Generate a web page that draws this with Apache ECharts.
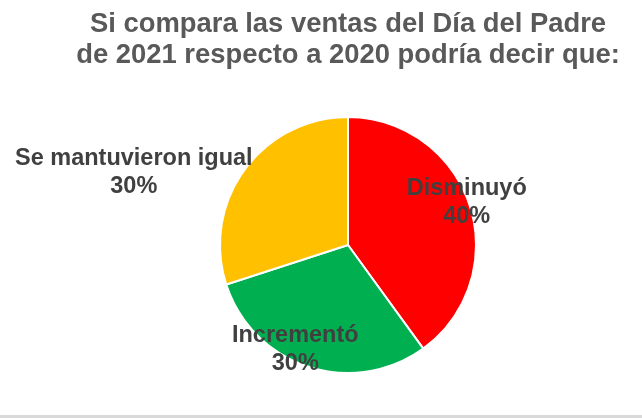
<!DOCTYPE html>
<html>
<head>
<meta charset="utf-8">
<script src="https://cdn.jsdelivr.net/npm/echarts@6/dist/echarts.min.js"></script>
<style>
html,body{margin:0;padding:0;background:#fff;}
#chart{width:642px;height:418px;}
</style>
</head>
<body>
<div id="chart"></div>
<script>
var titleLines = ['Si compara las ventas del Día del Padre', 'de 2021 respecto a 2020 podría decir que:'];
var categories = ['Disminuyó', 'Incrementó', 'Se mantuvieron igual'];
var values = [40, 30, 30];
var colors = ['#FF0000', '#00B050', '#FFC000'];

// label offsets from the default inside position (style only)
var labelShift = [[55, -22], [-32, 41], [-160, -33]];

var chart = echarts.init(document.getElementById('chart'));
var total = values.reduce(function (a, b) { return a + b; }, 0);
chart.setOption({
  animation: false,
  backgroundColor: '#ffffff',
  title: {
    text: titleLines.join('\n'),
    left: 343,
    textAlign: 'center',
    top: 4,
    textStyle: {
      fontFamily: 'Liberation Sans, Arial, sans-serif',
      fontSize: 27.4,
      fontWeight: 'bold',
      color: '#595959',
      lineHeight: 31
    }
  },
  graphic: [{
    type: 'rect',
    left: 0,
    bottom: 0,
    shape: { width: 642, height: 3 },
    style: { fill: '#d9d9d9' },
    silent: true
  }],
  series: [{
    type: 'pie',
    center: [348, 245],
    radius: 128,
    startAngle: 90,
    clockwise: true,
    data: categories.map(function (c, i) {
      return { name: c, value: values[i], itemStyle: { color: colors[i] } };
    }),
    itemStyle: { borderColor: '#ffffff', borderWidth: 2 },
    label: {
      show: true,
      position: 'inside',
      formatter: function (p) { return p.name + '\n' + Math.round(p.value / total * 100) + '%'; },
      fontFamily: 'Liberation Sans, Arial, sans-serif',
      fontSize: 23.5,
      fontWeight: 'bold',
      color: '#404040',
      lineHeight: 28,
      align: 'center'
    },
    labelLine: { show: false },
    labelLayout: function (params) {
      var s = labelShift[params.dataIndex];
      return { dx: s[0], dy: s[1] };
    },
    emphasis: { disabled: true }
  }]
});
</script>
</body>
</html>
